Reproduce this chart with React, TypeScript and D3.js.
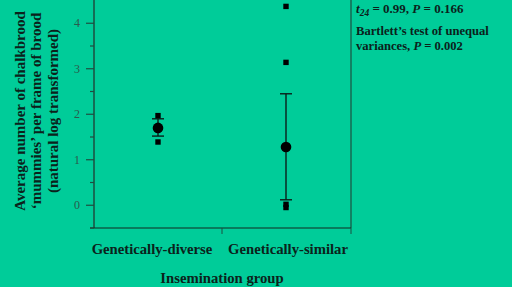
import React, { useRef, useEffect } from "react";
import * as d3 from "d3";

// insemination groups
const groups = ["Genetically-diverse", "Genetically-similar"];
// group means and error bar limits (natural log transformed)
const means = [1.7, 1.28];
const errLow = [1.52, 0.12];
const errHigh = [1.9, 2.45];
// individual colony values
const pointGroup = ["Genetically-diverse", "Genetically-diverse", "Genetically-similar", "Genetically-similar", "Genetically-similar", "Genetically-similar"];
const pointValue = [1.97, 1.39, 4.37, 3.14, 0.02, -0.05];
const yTicks = [0, 1, 2, 3, 4];
const yMinorTicks = [-0.5, 0.5, 1.5, 2.5, 3.5];

const W = 512;
const H = 287;
const BG = "#00cc99";
const AXIS = "#1d4f40";
const TEXT = "#0b221b";
const FONT = "'Liberation Serif', 'Times New Roman', serif";

const App = () => {
    const ref = useRef<SVGSVGElement>(null);

    useEffect(() => {
        const svg = d3.select(ref.current);
        svg.selectAll("*").remove();

        const x = d3.scaleBand().domain(groups).range([94, 350]);
        const y = d3.scaleLinear().domain([-0.5, 4.5]).range([228, 0.5]);
        const cx = (g: string) => (x(g) as number) + x.bandwidth() / 2;

        svg.append("rect").attr("width", W).attr("height", H).attr("fill", BG);

        // left axis
        svg.append("line")
            .attr("x1", 94).attr("x2", 94)
            .attr("y1", 0).attr("y2", 228)
            .attr("stroke", AXIS).attr("stroke-width", 1.5);
        // right border
        svg.append("line")
            .attr("x1", 351).attr("x2", 351)
            .attr("y1", 0).attr("y2", 228)
            .attr("stroke", AXIS).attr("stroke-width", 1.2);
        // bottom axis
        svg.append("line")
            .attr("x1", 90).attr("x2", 351)
            .attr("y1", 228).attr("y2", 228)
            .attr("stroke", "#102a22").attr("stroke-width", 1.2);
        // category boundary ticks
        svg.selectAll(".xt")
            .data([x.range()[0] + x.bandwidth(), x.range()[1] + 1])
            .enter().append("line")
            .attr("x1", d => d).attr("x2", d => d)
            .attr("y1", 228).attr("y2", 234)
            .attr("stroke", AXIS).attr("stroke-width", 1);

        // y ticks
        svg.selectAll(".yt")
            .data(yTicks)
            .enter().append("line")
            .attr("x1", 86).attr("x2", 94)
            .attr("y1", d => y(d)).attr("y2", d => y(d))
            .attr("stroke", AXIS).attr("stroke-width", 1.2);
        svg.selectAll(".ym")
            .data(yMinorTicks)
            .enter().append("line")
            .attr("x1", 90).attr("x2", 94)
            .attr("y1", d => y(d)).attr("y2", d => y(d))
            .attr("stroke", AXIS).attr("stroke-width", 1.2);
        svg.selectAll(".yl")
            .data(yTicks)
            .enter().append("text")
            .attr("x", 77).attr("y", d => y(d) + 4)
            .attr("text-anchor", "middle")
            .attr("font-family", FONT).attr("font-size", 12)
            .attr("fill", "#2b5a4c")
            .text(d => d);

        // category labels
        svg.selectAll(".xl")
            .data(groups)
            .enter().append("text")
            .attr("x", (d, i) => cx(d) + (i === 0 ? -6 : 2))
            .attr("y", 254)
            .attr("text-anchor", "middle")
            .attr("font-family", FONT).attr("font-size", 14.7).attr("font-weight", "bold")
            .attr("fill", TEXT)
            .text(d => d);

        svg.append("text")
            .attr("x", 222).attr("y", 283)
            .attr("text-anchor", "middle")
            .attr("font-family", FONT).attr("font-size", 14.7).attr("font-weight", "bold")
            .attr("fill", TEXT)
            .text("Insemination group");

        // y title
        const yTitle = ["Average number of chalkbrood", "\u2018mummies\u2019 per frame of brood", "(natural log transformed)"];
        svg.append("g")
            .attr("transform", "translate(25,111) rotate(-90)")
            .selectAll("text")
            .data(yTitle)
            .enter().append("text")
            .attr("x", 0).attr("y", (d, i) => i * 16.4)
            .attr("text-anchor", "middle")
            .attr("font-family", FONT).attr("font-size", 15).attr("font-weight", "bold")
            .attr("fill", TEXT)
            .text(d => d);

        // error bars
        const eb = svg.append("g");
        groups.forEach((g, i) => {
            const c = cx(g);
            eb.append("line")
                .attr("x1", c).attr("x2", c)
                .attr("y1", y(errHigh[i])).attr("y2", y(errLow[i]))
                .attr("stroke", "#0a1f19").attr("stroke-width", 1.4);
            [errHigh[i], errLow[i]].forEach(v => {
                eb.append("line")
                    .attr("x1", c - 6).attr("x2", c + 6)
                    .attr("y1", y(v)).attr("y2", y(v))
                    .attr("stroke", "#0a1f19").attr("stroke-width", 1.4);
            });
        });

        // individual points
        svg.selectAll(".pt")
            .data(pointValue)
            .enter().append("rect")
            .attr("x", (d, i) => cx(pointGroup[i]) - 2.7)
            .attr("y", d => y(d) - 2.7)
            .attr("width", 5.4).attr("height", 5.4)
            .attr("fill", "#000");

        // means
        svg.selectAll(".mn")
            .data(means)
            .enter().append("circle")
            .attr("cx", (d, i) => cx(groups[i]))
            .attr("cy", d => y(d))
            .attr("r", 5.3)
            .attr("fill", "#000");

        // stats annotation
        const ann = svg.append("g")
            .attr("font-family", FONT).attr("font-weight", "bold")
            .attr("fill", TEXT);
        const t1 = ann.append("text").attr("x", 356).attr("y", 13).attr("font-size", 13);
        t1.append("tspan").attr("font-style", "italic").text("t");
        t1.append("tspan").attr("font-style", "italic").attr("font-size", 9.5).attr("dy", 2.5).text("24");
        t1.append("tspan").attr("dy", -2.5).text(" = 0.99, ");
        t1.append("tspan").attr("font-style", "italic").text("P");
        t1.append("tspan").text(" = 0.166");
        ann.append("text").attr("x", 356).attr("y", 35).attr("font-size", 12.6)
            .text("Bartlett\u2019s test of unequal");
        const t3 = ann.append("text").attr("x", 356).attr("y", 49.5).attr("font-size", 12.6);
        t3.append("tspan").text("variances, ");
        t3.append("tspan").attr("font-style", "italic").text("P");
        t3.append("tspan").text(" = 0.002");
    }, []);

    return (
        <svg
            ref={ref}
            width={W}
            height={H}
            style={{ position: "absolute", left: 0, top: 0, display: "block" }}
        />
    );
};

export default App;
